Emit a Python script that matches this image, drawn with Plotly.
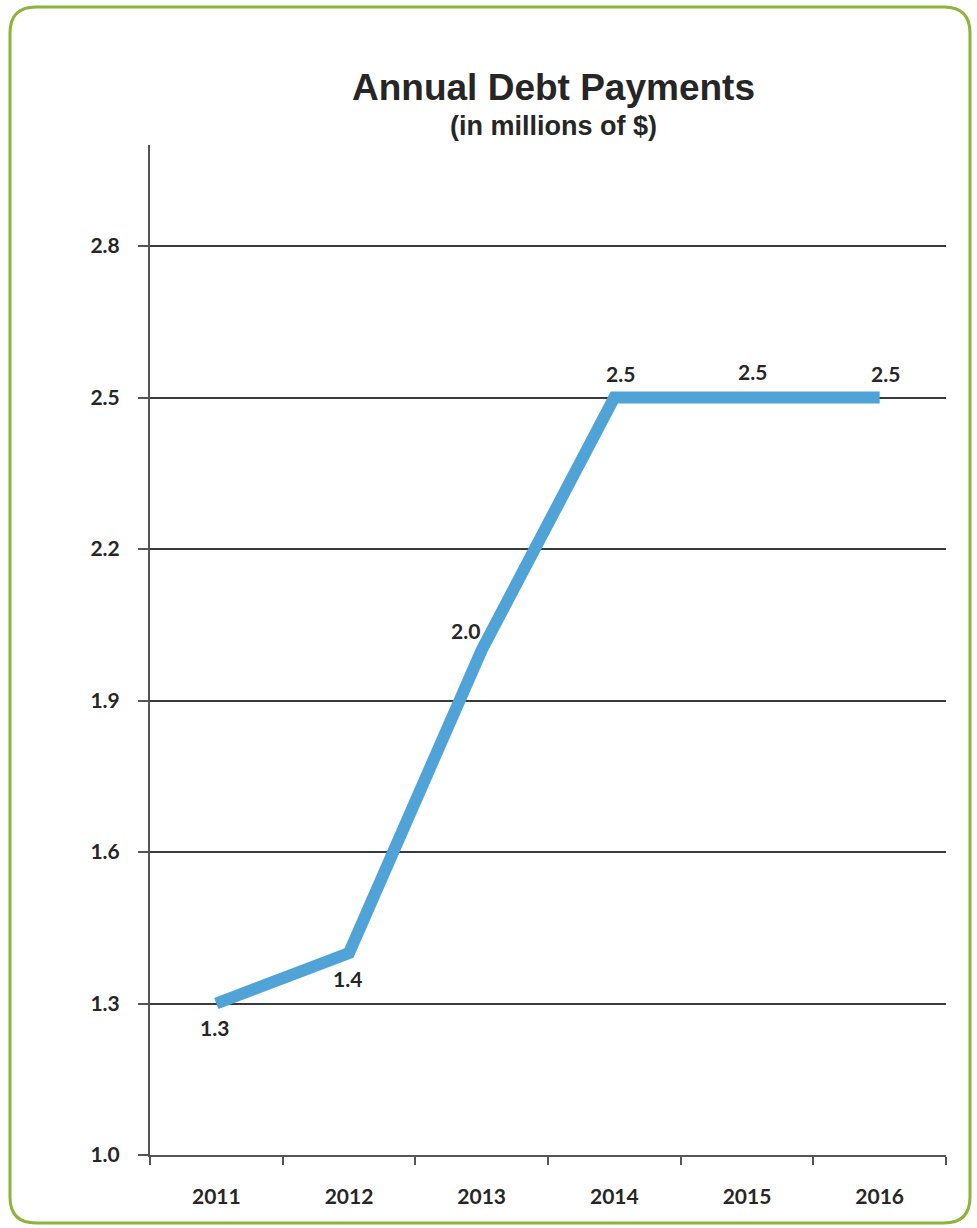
import plotly.graph_objects as go

# Annual debt payments, millions of dollars
years = ["2011", "2012", "2013", "2014", "2015", "2016"]
payments = [1.3, 1.4, 2.0, 2.5, 2.5, 2.5]
# pixel offsets of each value label from its point
label_dx = [-2, -2, -16, 6, 5, 6]
label_dy = [-24, -25, 20, 24, 26, 24]
y_ticks = [1.0, 1.3, 1.6, 1.9, 2.2, 2.5, 2.8]

W, H = 977, 1228
L, R, T, B = 150, 31, 145, 73
pw, ph = W - L - R, H - T - B

def px_to_paper(x, y):
    return (x - L) / pw, (H - B - y) / ph

# rounded frame around the whole graphic, built in pixel units
x0, x1, y0, y1, r = 10, 970, 7, 1223, 26
pts = [
    ("M", (x0 + r, y0)), ("L", (x1 - r, y0)), ("Q", (x1, y0), (x1, y0 + r)),
    ("L", (x1, y1 - r)), ("Q", (x1, y1), (x1 - r, y1)),
    ("L", (x0 + r, y1)), ("Q", (x0, y1), (x0, y1 - r)),
    ("L", (x0, y0 + r)), ("Q", (x0, y0), (x0 + r, y0)),
]
path = ""
for cmd, *coords in pts:
    path += cmd + " " + " ".join("%.5f,%.5f" % px_to_paper(*c) for c in coords) + " "
path += "Z"

fig = go.Figure()
fig.add_trace(go.Scatter(
    x=years, y=payments,
    mode="lines",
    line=dict(color="#4FA3D6", width=12),
    hoverinfo="skip",
))

label_font = dict(family="Lato", size=21, color="#262626", weight="bold")
# value labels: category axis positions are given by index
annotations = [
    dict(x=i, y=v, text="%.1f" % v, xref="x", yref="y", showarrow=False,
         xanchor="center", yanchor="middle", xshift=dx, yshift=dy, font=label_font)
    for i, (v, dx, dy) in enumerate(zip(payments, label_dx, label_dy))
]
annotations += [
    dict(text="<b>Annual Debt Payments</b>", xref="paper", yref="paper",
         x=px_to_paper(553, 88)[0], y=px_to_paper(553, 88)[1],
         xanchor="center", yanchor="middle", showarrow=False,
         font=dict(family="Liberation Sans", size=37, color="#262626")),
    dict(text="<b>(in millions of $)</b>", xref="paper", yref="paper",
         x=px_to_paper(553, 126)[0], y=px_to_paper(553, 126)[1],
         xanchor="center", yanchor="middle", showarrow=False,
         font=dict(family="Liberation Sans", size=27, color="#262626")),
]

axis_font = dict(family="Lato", size=21, color="#262626", weight="bold")

fig.update_layout(
    width=W, height=H,
    margin=dict(l=L, r=R, t=T, b=B),
    paper_bgcolor="white", plot_bgcolor="white",
    showlegend=False,
    xaxis=dict(
        type="category", range=[-0.5, 5.5],
        showline=True, linecolor="#555555", linewidth=2,
        showgrid=False, zeroline=False,
        ticks="outside", tickson="boundaries", ticklen=8, tickwidth=2, tickcolor="#555555",
        tickfont=axis_font, ticklabelstandoff=22,
    ),
    yaxis=dict(
        range=[1.0, 3.0], tickvals=y_ticks, tickformat=".1f",
        showline=True, linecolor="#555555", linewidth=2,
        showgrid=True, gridcolor="#3a3a3a", gridwidth=1.5, zeroline=False,
        ticks="outside", ticklen=10, tickwidth=2, tickcolor="#555555",
        tickfont=axis_font, ticklabelstandoff=14,
    ),
    shapes=[dict(type="path", path=path, xref="paper", yref="paper",
                 line=dict(color="#8DB33A", width=3), layer="below")],
    annotations=annotations,
)

fig.write_html("out.html")
